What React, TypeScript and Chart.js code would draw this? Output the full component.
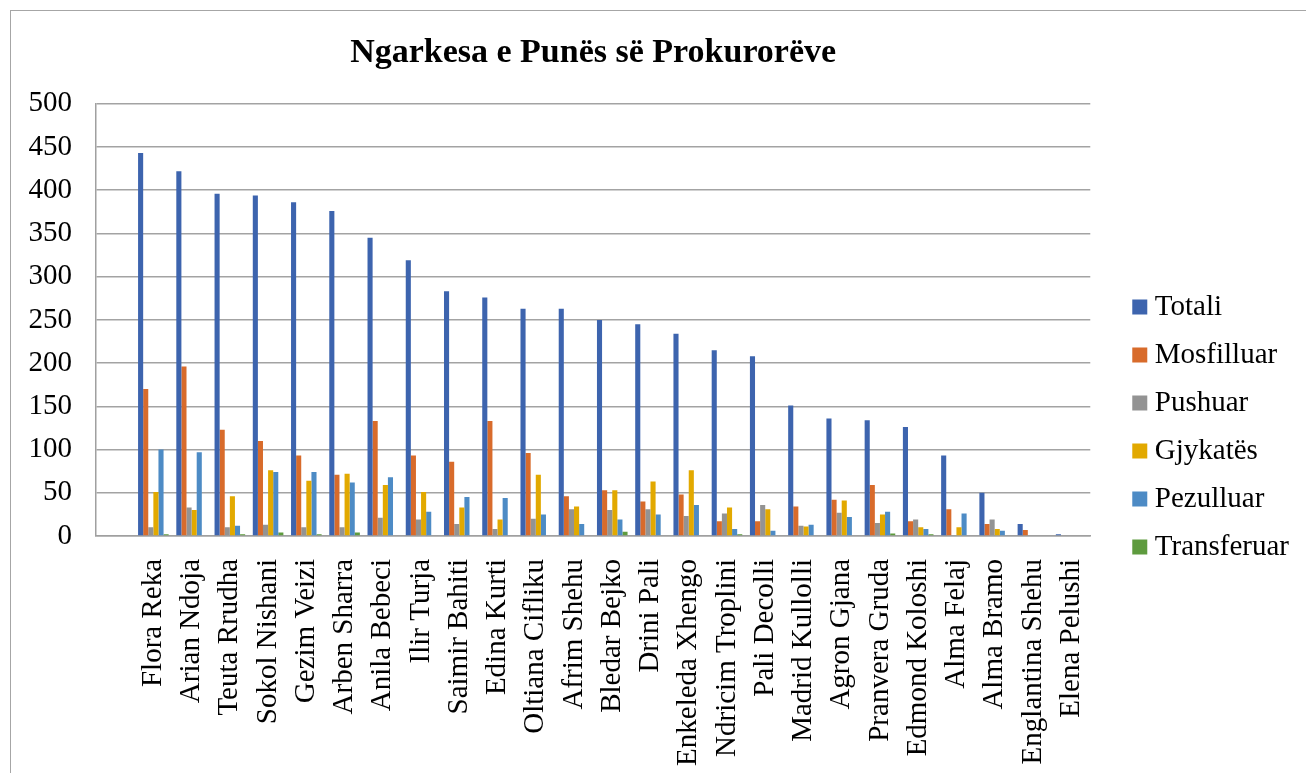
import React, { useEffect, useRef } from "react";
import { Chart, registerables } from "chart.js";

Chart.register(...registerables);

const FONT = "'Liberation Serif', 'Times New Roman', serif";

const titleText = "Ngarkesa e Punës së Prokurorëve";

const categories = [
  "",
  "Flora Reka",
  "Arian Ndoja",
  "Teuta Rrudha",
  "Sokol Nishani",
  "Gezim Veizi",
  "Arben Sharra",
  "Anila Bebeci",
  "Ilir Turja",
  "Saimir Bahiti",
  "Edina Kurti",
  "Oltiana Cifliku",
  "Afrim Shehu",
  "Bledar Bejko",
  "Drini Pali",
  "Enkeleda Xhengo",
  "Ndricim Troplini",
  "Pali Decolli",
  "Madrid Kullolli",
  "Agron Gjana",
  "Pranvera Gruda",
  "Edmond Koloshi",
  "Alma Felaj",
  "Alma Bramo",
  "Englantina Shehu",
  "Elena Pelushi",
];

const totali = [null, 443, 422, 396, 394, 386, 376, 345, 319, 283, 276, 263, 263, 250, 245, 234, 215, 208, 151, 136, 134, 126, 93, 50, 14, 2];
const mosfilluar = [null, 170, 196, 123, 110, 93, 71, 133, 93, 86, 133, 96, 46, 53, 40, 48, 17, 17, 34, 42, 59, 17, 31, 14, 7, 0];
const pushuar = [null, 10, 33, 10, 13, 10, 10, 21, 19, 14, 8, 20, 31, 30, 31, 23, 26, 36, 12, 27, 15, 19, 0, 19, 0, 1];
const gjykates = [null, 51, 30, 46, 76, 64, 72, 59, 51, 33, 19, 71, 34, 53, 63, 76, 33, 31, 11, 41, 25, 10, 10, 8, 0, 0];
const pezulluar = [null, 100, 97, 12, 74, 74, 62, 68, 28, 45, 44, 25, 14, 19, 25, 36, 8, 6, 13, 22, 28, 8, 26, 6, 0, 0];
const transferuar = [null, 2, 0, 2, 4, 2, 4, 0, 1, 0, 0, 0, 1, 5, 1, 0, 2, 0, 1, 0, 3, 2, 0, 0, 0, 0];

const seriesNames = ["Totali", "Mosfilluar", "Pushuar", "Gjykatës", "Pezulluar", "Transferuar"];
const seriesValues = [totali, mosfilluar, pushuar, gjykates, pezulluar, transferuar];
const seriesColors = ["#3D64AE", "#D86B2B", "#939393", "#E2A900", "#4D8BC5", "#5E9B3E"];

const yTicks = { min: 0, max: 500, step: 50 };

export default function App() {
  const canvasRef = useRef<HTMLCanvasElement | null>(null);

  useEffect(() => {
    const canvas = canvasRef.current;
    if (!canvas) return;
    const chart = new Chart(canvas, {
      type: "bar",
      data: {
        labels: categories,
        datasets: seriesNames.map((name, i) => ({
          label: name,
          data: seriesValues[i],
          backgroundColor: seriesColors[i],
          borderWidth: 0,
          categoryPercentage: 0.8,
          barPercentage: 1.0,
        })),
      },
      options: {
        responsive: false,
        animation: false,
        devicePixelRatio: 1,
        layout: { padding: { top: 0, left: 0, right: 7, bottom: 0 } },
        plugins: {
          tooltip: { enabled: false },
          title: {
            display: true,
            text: titleText,
            fullSize: false,
            color: "#000",
            font: { family: FONT, size: 34, weight: "bold", lineHeight: 1.2 },
            padding: { top: 33, bottom: 30 },
          },
          legend: {
            display: true,
            position: "right",
            labels: {
              usePointStyle: true,
              pointStyle: "rect",
              boxWidth: 1,
              boxHeight: 15,
              padding: 19,
              color: "#000",
              font: { family: FONT, size: 29 },
            },
          },
        },
        scales: {
          x: {
            grid: { display: false, drawTicks: false },
            border: { display: true, color: "#a0a0a0", width: 1.5 },
            ticks: {
              autoSkip: false,
              maxRotation: 90,
              minRotation: 90,
              padding: 23,
              color: "#000",
              font: { family: FONT, size: 29 },
            },
            afterFit: (scale: any) => {
              scale.height = 318;
            },
          },
          y: {
            min: yTicks.min,
            max: yTicks.max,
            ticks: {
              stepSize: yTicks.step,
              padding: 24,
              color: "#000",
              font: { family: FONT, size: 29 },
            },
            grid: { color: "#a3a3a3", lineWidth: 1.5, drawTicks: false },
            border: { display: true, color: "#a0a0a0", width: 1.5 },
            afterFit: (scale: any) => {
              scale.width = 96;
            },
          },
          yGap: {
            type: "linear",
            position: "right",
            display: true,
            grid: { display: false, drawTicks: false },
            border: { display: false },
            ticks: { display: false },
            afterFit: (scale: any) => {
              scale.width = 30;
            },
          },
        },
      } as any,
    });
    return () => chart.destroy();
  }, []);

  return (
    <div
      style={{
        position: "fixed",
        left: 0,
        top: 0,
        width: 1306,
        height: 773,
        overflow: "hidden",
        background: "#fff",
      }}
    >
      <div
        style={{
          position: "absolute",
          left: 10,
          top: 10,
          width: 1400,
          height: 900,
          border: "1.5px solid #a6a6a6",
          boxSizing: "border-box",
        }}
      />
      <canvas
        ref={canvasRef}
        width={1306}
        height={854}
        style={{ position: "absolute", left: 0, top: 0, display: "block" }}
      />
    </div>
  );
}
